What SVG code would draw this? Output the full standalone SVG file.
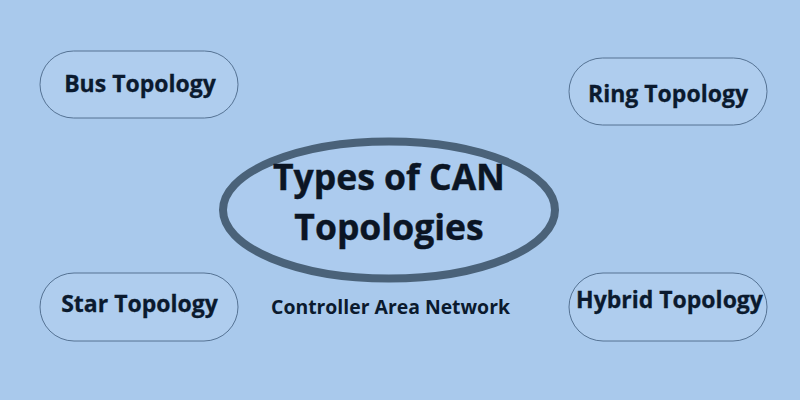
<svg xmlns="http://www.w3.org/2000/svg" width="800" height="400" viewBox="0 0 800 400">
<style>
.pill{fill:#afcdee;stroke:#3f5c7c;stroke-width:0.8}
.pt{font-family:"Open Sans","Liberation Sans",sans-serif;font-weight:700;font-size:23px;fill:#0b1a2e;text-anchor:middle;stroke:#0b1a2e;stroke-width:0.3}
.title{font-family:"Open Sans","Liberation Sans",sans-serif;font-weight:700;font-size:35.5px;fill:#0b1524;text-anchor:middle;stroke:#0b1524;stroke-width:0.4}
.sub{font-family:"Open Sans","Liberation Sans",sans-serif;font-weight:700;font-size:19.4px;fill:#0b1a2e;text-anchor:middle}
</style>
<rect width="800" height="400" fill="#a9c9ec"/>
<g id="connectors"></g>
<g id="center">
<ellipse cx="389" cy="210" rx="166" ry="68.5" fill="#accbee" stroke="#4a6279" stroke-width="8"/>
<text class="title" x="389" y="190">Types of CAN</text>
<text class="title" x="389" y="240">Topologies</text>
</g>
<g id="bus"><rect class="pill" x="40" y="51" width="198" height="67" rx="33.5"/><text class="pt" x="140" y="92">Bus Topology</text></g>
<g id="ring"><rect class="pill" x="569" y="58" width="198" height="67" rx="33.5"/><text class="pt" x="668" y="102">Ring Topology</text></g>
<g id="star"><rect class="pill" x="40" y="273" width="198" height="68" rx="34"/><text class="pt" x="139.5" y="312">Star Topology</text></g>
<g id="hybrid"><rect class="pill" x="569" y="273" width="198" height="68" rx="34"/><text class="pt" x="669.5" y="308">Hybrid Topology</text></g>
<g id="caption"><text class="sub" x="390.5" y="314">Controller Area Network</text></g>
</svg>
